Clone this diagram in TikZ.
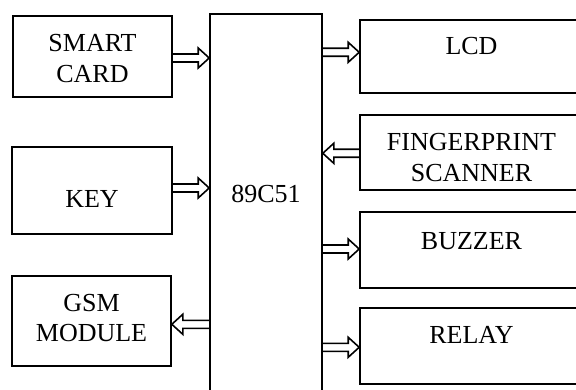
\documentclass[tikz,border=0pt]{standalone}
\usepackage{fontspec}
\setmainfont{Liberation Serif}
\usetikzlibrary{calc}
\tikzset{
  blockbox/.style={draw, line width=1.6pt, rectangle, inner sep=0pt,
    font=\fontsize{26}{30.5}\selectfont},
  boxtext/.style={align=center, font=\fontsize{26}{30.5}\selectfont},
  blk/.style={draw, line width=1.6pt, line join=miter}
}
% right-pointing block arrow: from x of #1 to x of #2 at height #3
\newcommand\blkright[3]{%
  \path[blk] let \p1=(#1), \p2=(#2) in
    (\x1,#3+4) -- (\x2-11,#3+4) -- (\x2-11,#3+10) -- (\x2,#3)
    -- (\x2-11,#3-10) -- (\x2-11,#3-4) -- (\x1,#3-4);}
% left-pointing block arrow: from x of #1 to x of #2 at height #3
\newcommand\blkleft[3]{%
  \path[blk] let \p1=(#1), \p2=(#2) in
    (\x1,#3+4) -- (\x2+11,#3+4) -- (\x2+11,#3+10) -- (\x2,#3)
    -- (\x2+11,#3-10) -- (\x2+11,#3-4) -- (\x1,#3-4);}
\begin{document}
\begin{tikzpicture}[x=1pt,y=1pt]
\useasboundingbox (0,0) rectangle (576,389);
\clip (0,0) rectangle (576,389);
% left column
\node[blockbox, minimum width=159, minimum height=81,
  label={[boxtext,yshift=-2pt]center:SMART\\CARD}] (sc) at (92.5,332.5) {};
\node[blockbox, minimum width=160, minimum height=87,
  label={[boxtext,yshift=-8.5pt]center:KEY}] (key) at (92,198.5) {};
\node[blockbox, minimum width=159, minimum height=90,
  label={[boxtext,yshift=3pt]center:GSM\\MODULE}] (gsm) at (91.5,68) {};
% controller
\node[blockbox, minimum width=112, minimum height=386,
  label={[boxtext,yshift=13pt]center:89C51}] (mcu) at (266,182) {};
% right column
\node[blockbox, minimum width=223, minimum height=73,
  label={[boxtext,yshift=10.5pt]center:LCD}] (lcd) at (471.5,332.5) {};
\node[blockbox, minimum width=223, minimum height=75,
  label={[boxtext,yshift=-5pt]center:FINGERPRINT\\SCANNER}] (fp) at (471.5,236.5) {};
\node[blockbox, minimum width=223, minimum height=76,
  label={[boxtext,yshift=9pt]center:BUZZER}] (bz) at (471.5,139) {};
\node[blockbox, minimum width=223, minimum height=76,
  label={[boxtext,yshift=11pt]center:RELAY}] (rl) at (471.5,43) {};
% block arrows
\blkright{sc.east}{mcu.west}{331}
\blkright{key.east}{mcu.west}{201}
\blkleft{mcu.west}{gsm.east}{64.7}
\blkright{mcu.east}{lcd.west}{336.7}
\blkleft{fp.west}{mcu.east}{235.7}
\blkright{mcu.east}{bz.west}{140}
\blkright{mcu.east}{rl.west}{41.7}
\end{tikzpicture}
\end{document}
